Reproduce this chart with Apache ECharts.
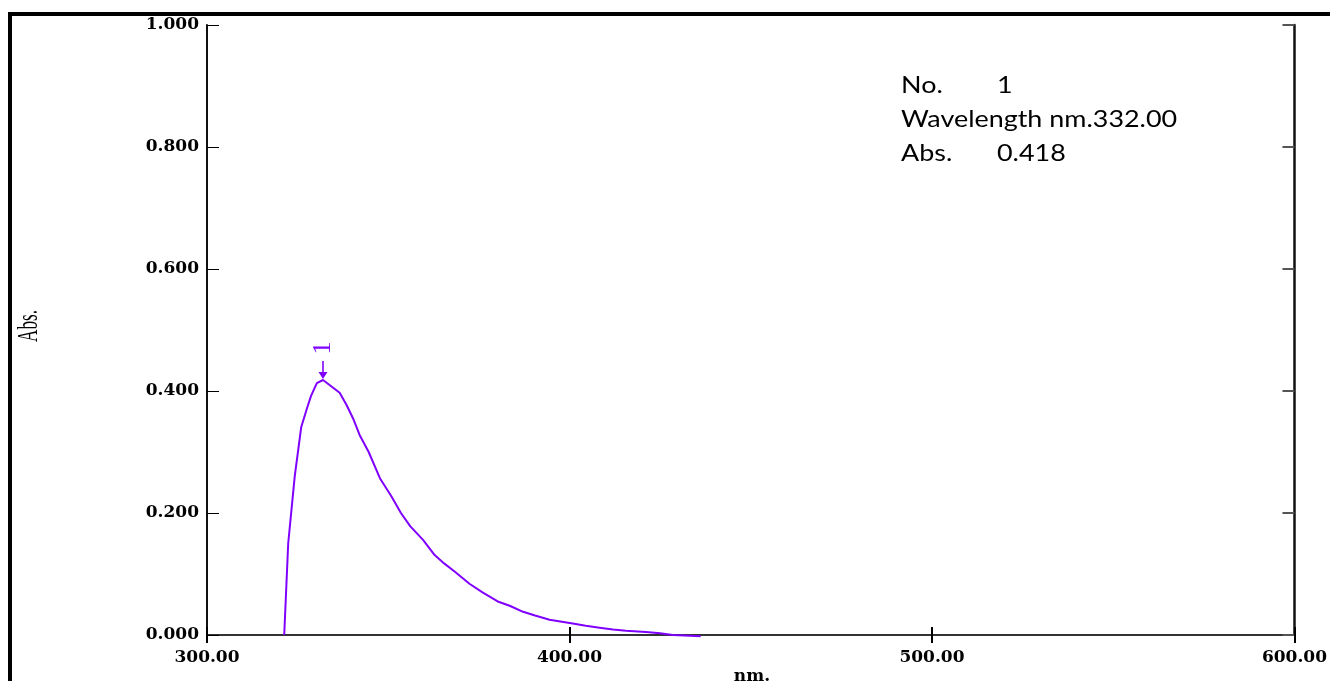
<!DOCTYPE html>
<html>
<head>
<meta charset="utf-8">
<script src="https://cdn.jsdelivr.net/npm/echarts@6/dist/echarts.min.js"></script>
<style>html,body{margin:0;padding:0;background:#fff;}#c{width:1330px;height:681px;}</style>
</head>
<body>
<div id="c"></div>
<script>
// ---- data ----
const wavelength = [321.3, 322.4, 324.2, 326.0, 327.5, 328.7, 330.3, 332.0, 336.6, 338.5, 340.3, 342.1, 344.6, 347.7, 350.9, 353.5, 356.1, 359.6, 362.8, 365.5, 368.3, 372.4, 376.0, 380.2, 383.5, 387.2, 390.5, 394.5, 400.9, 404.5, 408.3, 412.0, 415.6, 421.1, 425.0, 428.5, 436.2];
const absorbance = [0.000, 0.150, 0.260, 0.341, 0.370, 0.392, 0.413, 0.418, 0.397, 0.377, 0.355, 0.328, 0.300, 0.257, 0.227, 0.200, 0.178, 0.156, 0.131, 0.117, 0.104, 0.084, 0.070, 0.055, 0.048, 0.038, 0.032, 0.025, 0.019, 0.015, 0.012, 0.009, 0.007, 0.005, 0.003, 0.000, -0.002];
const peakNo = [1];
const peakWavelength = [332.00];
const peakAbs = [0.418];
const xTicks = [300, 400, 500, 600];
const yTicks = [0, 0.2, 0.4, 0.6, 0.8, 1.0];

const purple = '#8000ff';
const axisCol = '#333';
const labelFont = {color: '#000', fontFamily: 'DejaVu Serif', fontWeight: 'bold', fontSize: 17};

const chart = echarts.init(document.getElementById('c'));
const pts = wavelength.map((w, i) => [w, absorbance[i]]);

chart.setOption({
  animation: false,
  backgroundColor: '#fff',
  grid: {left: 207, right: 34, top: 25, bottom: 46},
  xAxis: [{
    type: 'value', min: xTicks[0], max: xTicks[xTicks.length - 1], interval: 100,
    position: 'bottom',
    axisLine: {lineStyle: {color: axisCol, width: 2}},
    axisTick: {inside: true, length: 8, lineStyle: {color: '#000', width: 2}},
    axisLabel: Object.assign({margin: 14, formatter: v => v.toFixed(2)}, labelFont),
    splitLine: {show: false}
  }, {
    type: 'value', min: xTicks[0], max: xTicks[xTicks.length - 1], interval: 100,
    position: 'top',
    axisLine: {lineStyle: {color: axisCol, width: 2}},
    axisTick: {inside: true, length: 8, lineStyle: {color: '#000', width: 2}},
    axisLabel: {show: false},
    splitLine: {show: false}
  }],
  yAxis: [{
    type: 'value', min: yTicks[0], max: yTicks[yTicks.length - 1], interval: 0.2,
    position: 'left',
    axisLine: {show: true, lineStyle: {color: '#111', width: 2}},
    axisTick: {show: true, inside: true, length: 12, lineStyle: {color: '#000', width: 1}},
    axisLabel: Object.assign({margin: 8, formatter: v => v.toFixed(3)}, labelFont),
    splitLine: {show: false}
  }, {
    type: 'value', min: yTicks[0], max: yTicks[yTicks.length - 1], interval: 0.2,
    position: 'right',
    axisLine: {show: true, lineStyle: {color: '#111', width: 2.5}},
    axisTick: {show: true, inside: true, length: 12, lineStyle: {color: '#555', width: 2}},
    axisLabel: {show: false},
    splitLine: {show: false}
  }],
  series: [{
    type: 'line',
    data: pts,
    xAxisIndex: 0, yAxisIndex: 0,
    showSymbol: false,
    clip: false,
    lineStyle: {color: purple, width: 2},
    itemStyle: {color: purple},
    markPoint: {
      itemStyle: {color: purple},
      data: [{
        coord: [peakWavelength[0], peakAbs[0]],
        symbol: 'path://M4.3,0 H5.7 V11 H9 L5,18 L1,11 H4.3 Z',
        symbolSize: [9, 18],
        symbolOffset: [0, '-55%'],
        label: {show: false}
      }, {
        coord: [peakWavelength[0], peakAbs[0]],
        symbol: 'circle',
        symbolSize: 1,
        itemStyle: {color: 'rgba(0,0,0,0)'},
        label: {
          show: true, position: 'inside', offset: [32, 0], rotate: 90,
          formatter: () => String(peakNo[0]),
          color: purple, fontFamily: 'Liberation Serif', fontSize: 26,
          align: 'center', verticalAlign: 'middle'
        }
      }]
    }
  }],
  graphic: [
    {type: 'rect', shape: {x: 8, y: 12, width: 1322, height: 4}, style: {fill: '#000'}, silent: true},
    {type: 'rect', shape: {x: 8, y: 12, width: 4, height: 669}, style: {fill: '#000'}, silent: true},
    {type: 'text', x: 29, y: 326, rotation: Math.PI / 2, scaleX: 0.57,
      style: {text: 'Abs.', fontFamily: 'Liberation Serif', fontSize: 30, fill: '#000', align: 'center', verticalAlign: 'middle'}},
    {type: 'text', x: 752, y: 677,
      style: {text: 'nm.', fontFamily: 'DejaVu Serif', fontWeight: 'bold', fontSize: 17, fill: '#000', align: 'center', verticalAlign: 'middle'}},
    {type: 'text', x: 901, y: 86, scaleX: 1.17, style: {text: 'No.', fontFamily: 'Lato', fontSize: 23, fill: '#000', verticalAlign: 'middle'}},
    {type: 'text', x: 997, y: 86, scaleX: 1.17, style: {text: String(peakNo[0]), fontFamily: 'Lato', fontSize: 23, fill: '#000', verticalAlign: 'middle'}},
    {type: 'text', x: 901, y: 120, scaleX: 1.17, style: {text: 'Wavelength nm.' + peakWavelength[0].toFixed(2), fontFamily: 'Lato', fontSize: 23, fill: '#000', verticalAlign: 'middle'}},
    {type: 'text', x: 901, y: 154, scaleX: 1.17, style: {text: 'Abs.', fontFamily: 'Lato', fontSize: 23, fill: '#000', verticalAlign: 'middle'}},
    {type: 'text', x: 997, y: 154, scaleX: 1.17, style: {text: peakAbs[0].toFixed(3), fontFamily: 'Lato', fontSize: 23, fill: '#000', verticalAlign: 'middle'}}
  ]
});
</script>
</body>
</html>
